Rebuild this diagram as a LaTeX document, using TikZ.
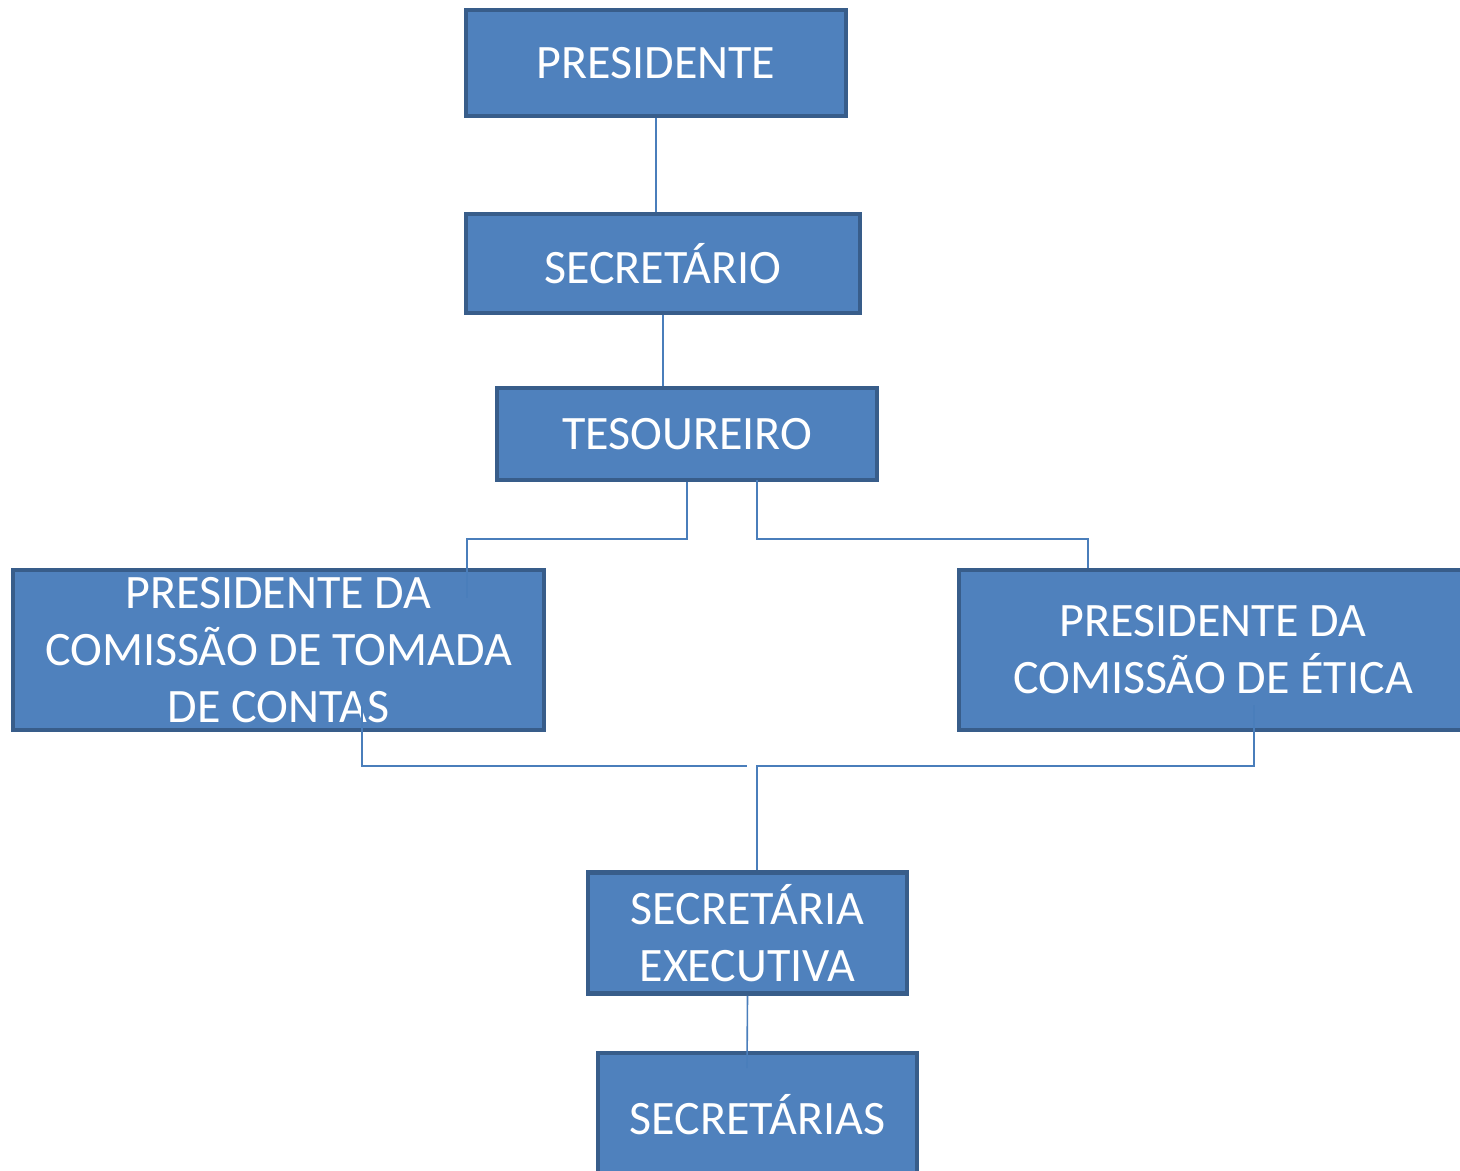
\documentclass[tikz,border=0pt]{standalone}
\usepackage{fontspec}
\setmainfont{Carlito}
\definecolor{boxfill}{HTML}{4F81BD}
\definecolor{boxline}{HTML}{385D8A}
\definecolor{conn}{HTML}{4A7EBB}
\begin{document}
\begin{tikzpicture}[x=0.5pt,y=-0.5pt,
  orgbox/.style={draw=boxline,fill=boxfill,line width=2.3pt,inner sep=0pt,
    text=white,align=center,font=\fontsize{24}{28.5}\selectfont},
  link/.style={draw=conn,line width=0.8pt}]
\useasboundingbox (0,0) rectangle (1460,1171);
\node[orgbox,minimum width=190pt,minimum height=53pt] (pres) at (656,63) {PRESIDENTE};
\node[orgbox,minimum width=197pt,minimum height=49.5pt] (sec) at (663,263.5) {SECRETÁRIO};
\node[orgbox,minimum width=190pt,minimum height=46pt] (tes) at (687,434) {TESOUREIRO};
\node[orgbox,minimum width=265.5pt,minimum height=80pt] (ptc) at (278.5,650) {PRESIDENTE DA\\COMISSÃO DE TOMADA\\DE CONTAS};
\node[orgbox,minimum width=254pt,minimum height=80pt] (pce) at (1213,650) {PRESIDENTE DA\\COMISSÃO DE ÉTICA};
\node[orgbox,minimum width=159.5pt,minimum height=60.5pt] (sexe) at (747.5,933) {SECRETÁRIA\\EXECUTIVA};
\node[orgbox,minimum width=159.5pt,minimum height=62pt] (secs) at (757.5,1115) {SECRETÁRIAS};
% connectors
\draw[link] (pres.south) -- (pres.south |- sec.north);
\draw[link] (sec.south) -- (sec.south |- tes.north);
\coordinate (tl1) at (687,539);
\coordinate (tl2) at (467,539);
\coordinate (tl3) at (467,598);
\draw[link] (tes.south) -- (tl1) -- (tl2) -- (tl3);
\coordinate (tr0) at (757,480);
\coordinate (tr1) at (757,539);
\coordinate (tr2) at (1088,539);
\draw[link] (tr0) -- (tr1) -- (tr2) -- (tr2 |- pce.north);
\coordinate (bl0) at (362,705);
\coordinate (bl1) at (362,766);
\coordinate (bl2) at (747,766);
\draw[link] (bl0) -- (bl1) -- (bl2);
\coordinate (br0) at (1254,705);
\coordinate (br1) at (1254,766);
\coordinate (br2) at (757,766);
\draw[link] (br0) -- (br1) -- (br2) -- (br2 |- sexe.north);
\coordinate (se1) at (747,1068);
\draw[link] (sexe.south) -- (se1);
\end{tikzpicture}
\end{document}
